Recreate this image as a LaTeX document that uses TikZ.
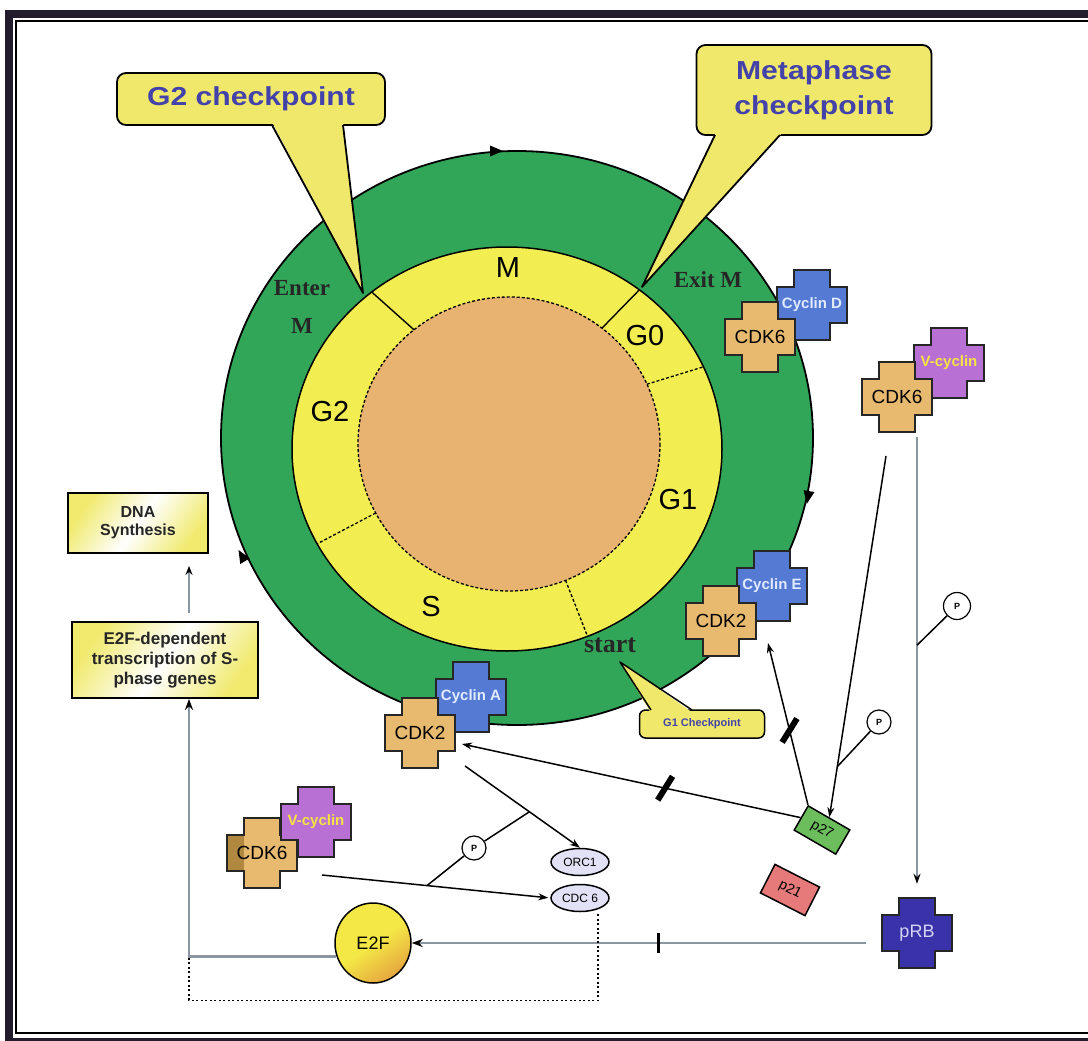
\documentclass[tikz,border=0pt]{standalone}
\usepackage{fontspec}
\usepackage{graphicx}
\setmainfont{Liberation Sans}
\newfontfamily\timesfam{Liberation Serif}
\usetikzlibrary{arrows.meta,calc,shapes.geometric}

\definecolor{cellgreen}{RGB}{50,166,88}
\definecolor{ringyellow}{RGB}{242,238,82}
\definecolor{nucleus}{RGB}{232,178,112}
\definecolor{calloutfill}{RGB}{240,232,106}
\definecolor{calloutink}{RGB}{66,66,170}
\definecolor{cdkfill}{RGB}{232,186,112}
\definecolor{cdkdark}{RGB}{176,136,64}
\definecolor{cycblue}{RGB}{84,122,212}
\definecolor{cycink}{RGB}{226,234,255}
\definecolor{vcycfill}{RGB}{184,112,212}
\definecolor{vcycink}{RGB}{246,228,64}
\definecolor{prbfill}{RGB}{58,50,168}
\definecolor{prbink}{RGB}{214,214,244}
\definecolor{pgreen}{RGB}{108,190,92}
\definecolor{pred}{RGB}{230,122,122}
\definecolor{orcfill}{RGB}{226,226,246}
\definecolor{e2fyellow}{RGB}{244,232,70}
\definecolor{e2forange}{RGB}{226,150,60}
\definecolor{wire}{RGB}{140,150,160}
\definecolor{boxwash}{RGB}{240,234,110}
\definecolor{framedark}{RGB}{34,28,44}

% plus-shaped protein glyph centred at (#1,#2)
\newcommand\plusat[3]{%
  \filldraw[#3] ($(#1,#2)+(-18,-35)$) -- ++(36,0) -- ++(0,17) -- ++(17,0) -- ++(0,36)
    -- ++(-17,0) -- ++(0,17) -- ++(-36,0) -- ++(0,-17) -- ++(-17,0) -- ++(0,-36)
    -- ++(17,0) -- cycle;}
% small direction mark on the cell outline
\newcommand\cyctip[3]{\fill[black,shift={(#1,#2)},rotate=#3] (7,0) -- (-6,5.5) -- (-6,-5.5) -- cycle;}

\begin{document}
\begin{tikzpicture}[x=1pt,y=-1pt,
  every node/.style={inner sep=0pt},
  ringtext/.style={font=\fontsize{29}{30}\selectfont},
  phasetext/.style={font=\timesfam\bfseries\fontsize{23}{24}\selectfont, text=black!85},
  callout/.style={draw=black, line width=1.8pt, fill=calloutfill, rounded corners=9pt,
    text=calloutink, align=center, font=\bfseries\fontsize{26}{35}\selectfont},
  tailedge/.style={draw=black, line width=1.8pt, line join=round},
  plus/.style={draw=black!85, line width=1.8pt},
  cdktext/.style={minimum size=70pt, font=\fontsize{19}{20}\selectfont, text=black},
  cyctext/.style={minimum size=70pt, font=\bfseries\fontsize{15}{16}\selectfont},
  act/.style={draw=black, line width=1.5pt, -{Stealth[length=10pt,width=7pt]}},
  tie/.style={draw=black, line width=1.5pt},
  wireline/.style={draw=wire, line width=2.6pt},
  wirearrow/.style={wireline, -{Stealth[length=11pt,width=8pt,color=black]}},
  dotline/.style={draw=black, line width=1.4pt, dash pattern=on 2pt off 2.5pt},
  phos/.style={circle, draw=black, line width=1.2pt, fill=white, minimum size=24pt,
    font=\bfseries\fontsize{9}{9}\selectfont},
  blocker/.style={fill=black, minimum width=6pt, minimum height=28pt, rotate=-32},
  dashdiv/.style={draw=black, line width=1.3pt, dash pattern=on 3pt off 2pt},
  soliddiv/.style={draw=black, line width=1.4pt},
  textbox/.style={draw=black, line width=1.8pt, align=center, text=black!85,
    font=\bfseries\fontsize{16}{18}\selectfont,
    top color=boxwash, bottom color=boxwash, middle color=white, shading angle=55},
  pbox/.style={draw=black, line width=1.5pt, minimum width=48pt, minimum height=28pt,
    font=\fontsize{14}{14}\selectfont},
  oval/.style={ellipse, draw=black, line width=1.5pt, fill=orcfill, minimum width=58pt,
    minimum height=27pt, font=\fontsize{12}{12}\selectfont},
]
\useasboundingbox (0,0) rectangle (1088,1041);
\fill[white] (0,0) rectangle (1088,1041);

% frame
\draw[framedark, line width=8pt] (9,14) rectangle (1120,1042);
\draw[black, line width=1.2pt] (16,21) rectangle (1120,1033);

% cell, phase ring and nucleus
\filldraw[fill=cellgreen, draw=black, line width=1.8pt] (517,438) ellipse [x radius=296, y radius=287];
\filldraw[fill=ringyellow, draw=black, line width=1.5pt] (507,449) ellipse [x radius=215, y radius=202];
\filldraw[fill=nucleus, dashdiv] (509,444) ellipse [x radius=151, y radius=147];

% phase boundaries
\foreach \t/\s in {129/soliddiv, 52/soliddiv, 24/dashdiv, -68/dashdiv, -152/dashdiv}
  \draw[\s] ($(509,444)+({151*cos(\t)},{-147*sin(\t)})$) -- ($(507,449)+({215*cos(\t)},{-202*sin(\t)})$);

% direction of the cycle
\cyctip{496}{151}{0}
\cyctip{808}{497}{-100}
\cyctip{242}{556}{120}

% phase labels
\node[ringtext] (lblM) at (508,268) {M};
\node[ringtext] (lblG0) at (645,336) {G0};
\node[ringtext] (lblG1) at (678,500) {G1};
\node[ringtext] (lblG2) at (330,412) {G2};
\node[ringtext] (lblS) at (431,607) {S};
\node[phasetext, font=\timesfam\bfseries\fontsize{26}{26}\selectfont] (lblstart) at (610,645) {start};
\node[phasetext] (lblenter) at (302,288) {Enter};
\node[phasetext] (lblenterM) at (302,326) {M};
\node[phasetext] (lblexit) at (708,280) {Exit M};

% checkpoint callouts
\node[callout, minimum width=268pt, minimum height=52pt] (g2box) at (251,99)
  {\scalebox{1.16}[1]{G2 checkpoint}};
\fill[calloutfill] (272,122) -- (363,293) -- (343,122) -- cycle;
\draw[tailedge] (272,125) -- (363,293) -- (343,125);

\node[callout, minimum width=235pt, minimum height=90pt] (metabox) at (814,90)
  {\scalebox{1.16}[1]{Metaphase}\\\scalebox{1.16}[1]{checkpoint}};
\fill[calloutfill] (716,132) -- (642,287) -- (783,132) -- cycle;
\draw[tailedge] (715,135) -- (642,287) -- (780,135);

\node[callout, line width=1.5pt, rounded corners=6pt, minimum width=125pt, minimum height=28pt,
  font=\bfseries\fontsize{11}{12}\selectfont] (g1box) at (702,724) {G1 Checkpoint};
\fill[calloutfill] (651,713) -- (620,662) -- (693,713) -- cycle;
\draw[tailedge, line width=1.5pt] (651,710) -- (620,662) -- (692,710);

% cyclin / CDK complexes
\plusat{812}{305}{plus, fill=cycblue}
\node[cyctext, text=cycink] (cycD) at (812,305) {Cyclin D};
\plusat{760}{337}{plus, fill=cdkfill}
\node[cdktext] (cdk6a) at (760,337) {CDK6};

\plusat{949}{363}{plus, fill=vcycfill}
\node[cyctext, text=vcycink] (vcycb) at (949,363) {V-cyclin};
\plusat{897}{397}{plus, fill=cdkfill}
\node[cdktext] (cdk6b) at (897,397) {CDK6};

\plusat{772}{586}{plus, fill=cycblue}
\node[cyctext, text=cycink] (cycE) at (772,586) {Cyclin E};
\plusat{721}{621}{plus, fill=cdkfill}
\node[cdktext] (cdk2e) at (721,621) {CDK2};

\plusat{471}{697}{plus, fill=cycblue}
\node[cyctext, text=cycink] (cycA) at (471,697) {Cyclin A};
\plusat{420}{733}{plus, fill=cdkfill}
\node[cdktext] (cdk2a) at (420,733) {CDK2};

\plusat{262}{853}{plus, fill=cdkfill}
\fill[cdkdark] ($(262,853)+(-34,-17)$) rectangle ($(262,853)+(-18,17)$);
\node[cdktext] (cdk6c) at (262,853) {CDK6};
\plusat{316}{822}{plus, fill=vcycfill}
\node[cyctext, text=vcycink] (vcycc) at (316,822) {V-cyclin};

\plusat{917}{933}{plus, fill=prbfill}
\node[cdktext, text=prbink, font=\fontsize{18}{18}\selectfont] (prb) at (917,933) {pRB};

% inhibitors, licensing factors, E2F
\node[pbox, fill=pgreen, rotate=-30] (p27) at (822,830) {p27};
\node[pbox, fill=pred, rotate=-27, minimum width=50pt, minimum height=32pt] (p21) at (790,890) {p21};
\node[oval] (orc) at (580,862) {ORC1};
\node[oval] (cdc) at (580,898) {CDC 6};
\node[ellipse, draw=black, line width=1.5pt, minimum width=76pt, minimum height=80pt,
  top color=e2fyellow, bottom color=e2forange!80!e2fyellow, middle color=e2fyellow, shading angle=35,
  font=\fontsize{18}{18}\selectfont] (e2f) at (373,943) {E2F};

% outcome boxes
\node[textbox, minimum width=140pt, minimum height=60pt] (dnabox) at (138,523) {DNA\\Synthesis};
\node[textbox, minimum width=186pt, minimum height=76pt, font=\bfseries\fontsize{17}{20}\selectfont]
  (e2fbox) at (165,660) {E2F-dependent\\transcription of S-\\phase genes};

% phosphorylation marks
\node[phos, minimum size=27pt] (ph1) at (957,606) {P};
\node[phos] (ph2) at (879,722) {P};
\node[phos] (ph3) at (474,848) {P};

% CDK6/V-cyclin to pRB
\coordinate (vstart) at ($(cdk6b)+(20,40)$);
\coordinate (vend) at ($(prb.north)+(0,-14)$);
\draw[wireline, -{Stealth[length=10pt,width=7pt,color=black]}] (vstart) -- (vend);
\draw[tie] (ph1) -- ($(vstart)!0.466!(vend)$);

% CDK6/V-cyclin to p27
\coordinate (estart) at ($(cdk6b)+(-11,59)$);
\draw[act] (estart) -- (p27.north);
\draw[tie] (ph2) -- ($(estart)!0.86!(p27.north)$);

% p27 against CDK2/Cyclin E and CDK2/Cyclin A
\draw[act] (p27.north west) -- node[pos=0.46, blocker] (barE) {} ($(cdk2e)+(47,22)$);
\draw[act] (p27.west) -- node[pos=0.40, blocker] (barA) {} ($(cdk2a)+(42,11)$);

% CDK2/Cyclin A to ORC1, CDK6/V-cyclin to CDC 6
\coordinate (bstart) at ($(cdk2a)+(45,33)$);
\coordinate (cstart) at ($(cdk6c)+(60,22)$);
\draw[act] (bstart) -- (orc.north);
\draw[act, shorten >=2pt] (cstart) -- (cdc.west);
\draw[tie] (ph3) -- ($(bstart)!0.56!(orc.north)$);
\draw[tie] (ph3) -- ($(cstart)!0.46!(cdc.west)$);

% pRB to E2F
\draw[wirearrow, line width=2.2pt] ($(prb.west)+(-16,10)$) -- node[pos=0.457, fill=black, minimum width=3pt, minimum height=20pt] (tickE) {} (e2f.east);

% E2F to transcription, transcription to DNA synthesis
\coordinate (jup) at ($(e2fbox.south)+(24,0)$);
\coordinate (ejoin) at (e2f.200 -| jup);
\draw[wirearrow] (e2f.200) -- (ejoin) -- (jup);
\draw[wireline, line width=2pt, -{Stealth[length=9pt,width=7pt,color=black]}]
  ($(e2fbox.north)+(24,-8)$) -- ($(dnabox.south)+(51,12)$);

% licensing feedback (dotted)
\coordinate (dstart) at ($(cdc.south)+(18,2)$);
\draw[dotline] (dstart) -- ($(dstart)+(0,86)$) -| (ejoin);
\end{tikzpicture}
\end{document}
